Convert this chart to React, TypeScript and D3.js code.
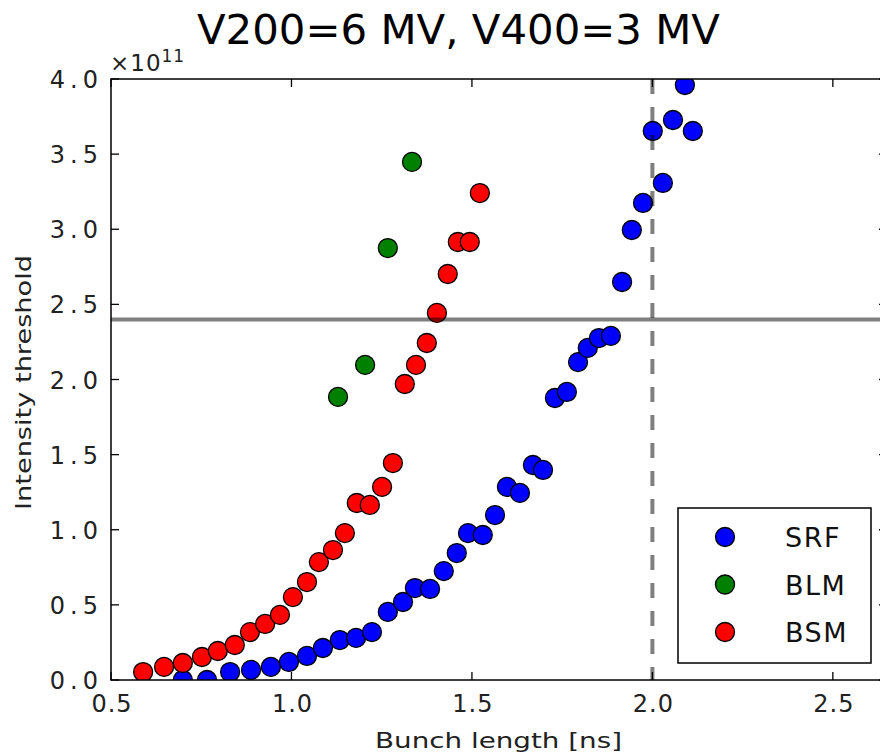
import React from "react";
import * as d3 from "d3";

const TITLE = "V200=6 MV, V400=3 MV";
const X_LABEL = "Bunch length [ns]";
const Y_LABEL = "Intensity threshold";
const X_TICKS = [0.5, 1.0, 1.5, 2.0, 2.5];
const Y_TICKS = [0, 0.5, 1.0, 1.5, 2.0, 2.5, 3.0, 3.5, 4.0];
const X_DOMAIN = [0.5, 2.65];
const Y_DOMAIN = [0, 4.0];
const H_LINE = 2.4;
const V_LINE = 2.0;

// intensity in units of 1e11
const SRF_X = [0.699, 0.766, 0.830, 0.888, 0.943, 0.993, 1.043, 1.087, 1.134, 1.179, 1.223, 1.267, 1.309, 1.342, 1.384, 1.422, 1.458, 1.489, 1.530, 1.564, 1.597, 1.633, 1.669, 1.697, 1.730, 1.763, 1.794, 1.821, 1.852, 1.885, 1.916, 1.943, 1.974, 2.001, 2.029, 2.057, 2.090, 2.112];
const SRF_Y = [0.0, 0.0, 0.053, 0.067, 0.087, 0.120, 0.160, 0.213, 0.266, 0.280, 0.319, 0.453, 0.519, 0.612, 0.606, 0.725, 0.845, 0.978, 0.965, 1.098, 1.285, 1.245, 1.431, 1.398, 1.877, 1.917, 2.116, 2.210, 2.276, 2.290, 2.649, 2.995, 3.175, 3.654, 3.308, 3.727, 3.960, 3.654];

const BLM_X = [1.129, 1.204, 1.267, 1.334];
const BLM_Y = [1.884, 2.097, 2.875, 3.448];

const BSM_X = [0.589, 0.647, 0.699, 0.752, 0.796, 0.843, 0.885, 0.927, 0.968, 1.004, 1.043, 1.076, 1.115, 1.148, 1.181, 1.217, 1.251, 1.281, 1.314, 1.345, 1.375, 1.403, 1.433, 1.461, 1.494, 1.522];
const BSM_Y = [0.053, 0.087, 0.113, 0.153, 0.193, 0.233, 0.319, 0.373, 0.433, 0.552, 0.652, 0.785, 0.865, 0.978, 1.178, 1.165, 1.285, 1.444, 1.970, 2.097, 2.243, 2.443, 2.702, 2.915, 2.915, 3.241];

const SERIES = [
  { name: "SRF", xs: SRF_X, ys: SRF_Y, color: "#0000ff" },
  { name: "BLM", xs: BLM_X, ys: BLM_Y, color: "#008000" },
  { name: "BSM", xs: BSM_X, ys: BSM_Y, color: "#ff0000" },
];

export default function App() {
  const W = 880, H = 755;
  const left = 111, top = 79, right = 887, bottom = 680;
  const x = d3.scaleLinear().domain(X_DOMAIN).range([left, right]);
  const y = d3.scaleLinear().domain(Y_DOMAIN).range([bottom, top]);
  const font = "'DejaVu Sans', sans-serif";
  const tickLen = 8;
  const r = 9.5;

  return (
    <svg width={W} height={H} style={{ position: "absolute", left: 0, top: 0, background: "#fff" }}>
      <defs>
        <clipPath id="plotclip">
          <rect x={left} y={top} width={right - left} height={bottom - top} />
        </clipPath>
      </defs>
      <rect x={0} y={0} width={W} height={H} fill="#fff" />
      <g clipPath="url(#plotclip)">
        {SERIES.map((s) =>
          s.xs.map((xv, i) => (
            <circle key={s.name + i} cx={x(xv)} cy={y(s.ys[i])} r={r} fill={s.color} stroke="#000" strokeWidth={1.3} />
          ))
        )}
        <line x1={left} x2={right} y1={y(H_LINE)} y2={y(H_LINE)} stroke="#000" strokeOpacity={0.5} strokeWidth={4} />
        <line x1={x(V_LINE)} x2={x(V_LINE)} y1={top} y2={bottom} stroke="#000" strokeOpacity={0.5} strokeWidth={4} strokeDasharray="15 13" />
      </g>
      {/* ticks */}
      {X_TICKS.map((t) => (
        <g key={"xt" + t}>
          <line x1={x(t)} x2={x(t)} y1={bottom} y2={bottom - tickLen} stroke="#000" strokeWidth={1.3} />
          <line x1={x(t)} x2={x(t)} y1={top} y2={top + tickLen} stroke="#000" strokeWidth={1.3} />
          <text x={x(t) + 1} y={712} textAnchor="middle" fontFamily={font} fontSize={24} letterSpacing={1} fill="#222">
            {t.toFixed(1)}
          </text>
        </g>
      ))}
      {Y_TICKS.map((t) => (
        <g key={"yt" + t}>
          <line x1={left} x2={left + tickLen} y1={y(t)} y2={y(t)} stroke="#000" strokeWidth={1.3} />
          <line x1={right} x2={right - tickLen} y1={y(t)} y2={y(t)} stroke="#000" strokeWidth={1.3} />
          <text x={103} y={y(t) + 9} textAnchor="end" fontFamily={font} fontSize={24} letterSpacing={5} fill="#222">
            {t.toFixed(1)}
          </text>
        </g>
      ))}
      <rect x={left} y={top} width={right - left} height={bottom - top} fill="none" stroke="#000" strokeWidth={1.5} />
      {/* offset text */}
      <text x={110} y={71} fontFamily={font} fontSize={23} letterSpacing={1} fill="#222">
        ×10<tspan fontSize={17} dy={-9}>11</tspan>
      </text>
      {/* title */}
      <text x={197} y={44} fontFamily={font} fontSize={41} textLength={523} lengthAdjust="spacingAndGlyphs" fill="#000">
        {TITLE}
      </text>
      {/* axis labels */}
      <text x={375} y={748} fontFamily={font} fontSize={22} textLength={247} lengthAdjust="spacingAndGlyphs" fill="#222">
        {X_LABEL}
      </text>
      <text transform={`translate(31, 510) rotate(-90)`} fontFamily={font} fontSize={22} textLength={255} lengthAdjust="spacingAndGlyphs" fill="#222">
        {Y_LABEL}
      </text>
      {/* legend */}
      <rect x={678} y={508} width={193} height={155} fill="#fff" stroke="#000" strokeWidth={1.5} />
      {SERIES.map((s, i) => (
        <g key={"lg" + s.name}>
          <circle cx={725} cy={537 + i * 47.5} r={r} fill={s.color} stroke="#000" strokeWidth={1.3} />
          <text x={785} y={537 + i * 47.5 + 10} fontFamily={font} fontSize={27} letterSpacing={1.5} fill="#111">
            {s.name}
          </text>
        </g>
      ))}
    </svg>
  );
}
